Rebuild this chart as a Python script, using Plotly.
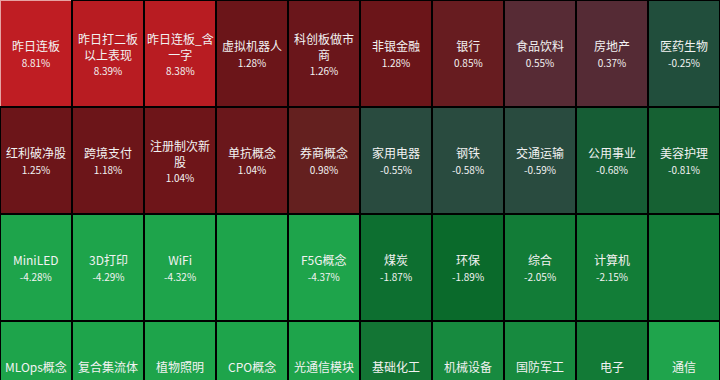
import plotly.graph_objects as go

# ---- data ----
names = [
    ["昨日连板", "昨日打二板<br>以上表现", "昨日连板_含<br>一字", "虚拟机器人", "科创板做市<br>商",
     "非银金融", "银行", "食品饮料", "房地产", "医药生物"],
    ["红利破净股", "跨境支付", "注册制次新<br>股", "单抗概念", "券商概念",
     "家用电器", "钢铁", "交通运输", "公用事业", "美容护理"],
    ["MiniLED", "3D打印", "WiFi", "", "F5G概念",
     "煤炭", "环保", "综合", "计算机", ""],
    ["MLOps概念", "复合集流体", "植物照明", "CPO概念", "光通信模块",
     "基础化工", "机械设备", "国防军工", "电子", "通信"],
]
changes = [
    [8.81, 8.39, 8.38, 1.28, 1.26, 1.28, 0.85, 0.55, 0.37, -0.25],
    [1.25, 1.18, 1.04, 1.04, 0.98, -0.55, -0.58, -0.59, -0.68, -0.81],
    [-4.28, -4.29, -4.32, None, -4.37, -1.87, -1.89, -2.05, -2.15, None],
    [None] * 10,  # bottom row percentages are cut off in the source image
]
colors = [
    ["#bf1d23", "#b81c22", "#b81c22", "#6b1519", "#6a161b", "#6b1519", "#671c20", "#572b35", "#552b35", "#214e3c"],
    ["#6c1519", "#6c1519", "#6e1519", "#6a171b", "#64201f", "#294b3f", "#294b3f", "#294b3f", "#165d35", "#166133"],
    ["#1ea44b", "#1ea44b", "#1ea44b", "#1ea44b", "#1ea44b", "#0d6f30", "#0a6a2b", "#127c37", "#127d37", "#127b37"],
    ["#1ea44b", "#1ea44b", "#1ea44b", "#1ea44b", "#1ea44b", "#137534", "#178a3f", "#178a3f", "#127a36", "#1fa44c"],
]
selected = (0, 0)

ncols = len(names[0])
nrows = len(names)

fig = go.Figure()
for r in range(nrows):
    line_cols = ["#e6a3a3" if (r, c) == selected else "#000000" for c in range(ncols)]
    fig.add_trace(go.Bar(
        x=[c + 0.5 for c in range(ncols)],
        y=[1] * ncols,
        base=[r] * ncols,
        width=1,
        marker=dict(color=colors[r], line=dict(color=line_cols, width=2)),
        hoverinfo="skip",
        showlegend=False,
    ))
    for c in range(ncols):
        nm = names[r][c]
        ch = changes[r][c]
        if not nm:
            continue
        txt = nm
        shift = 0
        if ch is not None:
            txt += "<br><span style='font-size:10px'>%.2f%%</span>" % ch
        else:
            shift = 8
        fig.add_annotation(
            x=c + 0.5, y=r + 0.5, xref="x", yref="y",
            text=txt, showarrow=False, yshift=shift,
            font=dict(family="Noto Sans CJK SC", size=12, color="#f2f2f2"),
            align="center",
        )

fig.update_layout(
    width=720, height=380,
    margin=dict(l=0, r=0, t=0, b=0),
    paper_bgcolor="#000000", plot_bgcolor="#000000",
    barmode="overlay", bargap=0,
    xaxis=dict(range=[0, ncols], visible=False, fixedrange=True),
    yaxis=dict(range=[3.55, 0], visible=False, fixedrange=True),
)

fig.write_html("out.html", config={"displayModeBar": False},
               post_script="document.body.style.margin='0';document.body.style.background='#000';")
